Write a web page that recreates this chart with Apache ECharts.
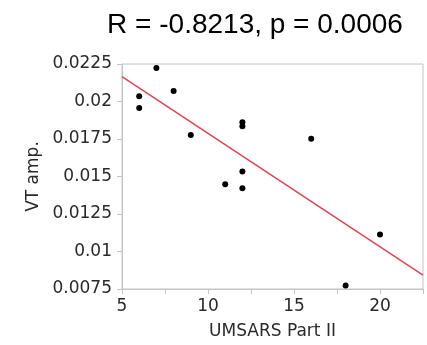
<!DOCTYPE html>
<html>
<head>
<meta charset="utf-8">
<script src="https://cdn.jsdelivr.net/npm/echarts@6/dist/echarts.min.js"></script>
<style>
html,body{margin:0;padding:0;background:#fff;}
#c{width:427px;height:345px;}
</style>
</head>
<body>
<div id="c"></div>
<script>
const titleText = 'R = -0.8213, p = 0.0006';
const xName = 'UMSARS Part II';
const yName = 'VT amp.';
const umsars = [6, 6, 7, 8, 9, 11, 12, 12, 12, 12, 16, 18, 20];
const vtAmp = [0.02035, 0.01957, 0.02223, 0.0207, 0.01777, 0.01448, 0.01861, 0.01835, 0.01534, 0.01421, 0.01752, 0.00774, 0.01114];
const fitX = [5, 22.5];
const fitY = [0.02166, 0.00843];

const chart = echarts.init(document.getElementById('c'));
const axisGray = '#c4c4c4';
const labelFont = 'DejaVu Sans';
chart.setOption({
  animation: false,
  title: {
    text: titleText,
    left: 250, top: 6, textAlign: 'center',
    textStyle: {fontFamily: 'Liberation Sans', fontSize: 28, fontWeight: 'normal', color: '#000'}
  },
  grid: {left: 122, right: 4, top: 64, bottom: 56, show: true, borderColor: axisGray, borderWidth: 1},
  xAxis: {
    type: 'value', min: 5, max: 22.5, interval: 5,
    name: xName, nameLocation: 'middle', nameGap: 34,
    nameTextStyle: {fontFamily: labelFont, fontSize: 17, color: '#2a2a2a'},
    axisLine: {show: true, lineStyle: {color: axisGray}},
    axisTick: {show: true, length: 5, lineStyle: {color: axisGray}},
    minorTick: {show: true, splitNumber: 2, length: 5, lineStyle: {color: axisGray}},
    splitLine: {show: false},
    axisLabel: {fontFamily: labelFont, fontSize: 17, color: '#2a2a2a', margin: 9, showMaxLabel: false,
      formatter: v => (v % 5 === 0 ? String(v) : '')}
  },
  yAxis: {
    type: 'value', min: 0.0075, max: 0.0225, interval: 0.0025,
    name: yName, nameLocation: 'middle', nameGap: 80,
    nameTextStyle: {fontFamily: labelFont, fontSize: 17, color: '#2a2a2a'},
    axisLine: {show: true, lineStyle: {color: axisGray}},
    axisTick: {show: true, length: 5, lineStyle: {color: axisGray}},
    splitLine: {show: false},
    axisLabel: {fontFamily: labelFont, fontSize: 17, color: '#2a2a2a', margin: 10,
      formatter: v => String(+v.toFixed(4))}
  },
  series: [
    {
      type: 'line', data: fitX.map((x, i) => [x, fitY[i]]),
      symbol: 'none', lineStyle: {color: '#d9485a', width: 1.6}, z: 2, silent: true
    },
    {
      type: 'scatter', data: umsars.map((x, i) => [x, vtAmp[i]]),
      symbolSize: 6, itemStyle: {color: '#000', opacity: 1}, z: 3
    }
  ]
});
</script>
</body>
</html>
